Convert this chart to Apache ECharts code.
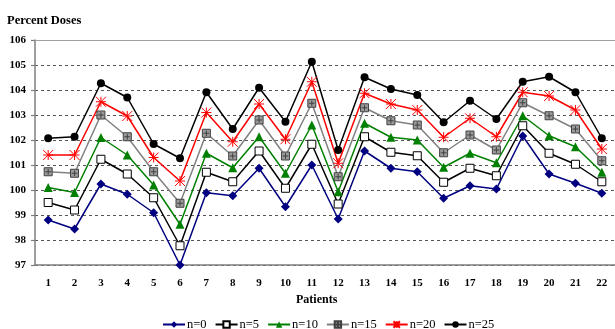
<!DOCTYPE html>
<html>
<head>
<meta charset="utf-8">
<script src="https://cdn.jsdelivr.net/npm/echarts@6/dist/echarts.min.js"></script>
<style>html,body{margin:0;padding:0;background:#fff}#c{width:615px;height:329px}</style>
</head>
<body>
<div id="c"></div>
<script>
const patients = ['1','2','3','4','5','6','7','8','9','10','11','12','13','14','15','16','17','18','19','20','21','22'];
const n0  = [98.80, 98.44, 100.24, 99.83, 99.09, 97.00, 99.89, 99.77, 100.87, 99.33, 101.00, 98.84, 101.56, 100.87, 100.73, 99.67, 100.17, 100.04, 102.16, 100.64, 100.27, 99.87];
const n5  = [99.50, 99.20, 101.23, 100.64, 99.69, 97.77, 100.71, 100.33, 101.56, 100.07, 101.83, 99.44, 102.13, 101.51, 101.37, 100.31, 100.87, 100.57, 102.57, 101.47, 101.03, 100.33];
const n10 = [100.10, 99.90, 102.10, 101.40, 100.20, 98.63, 101.47, 100.89, 102.13, 100.67, 102.60, 99.93, 102.67, 102.11, 102.00, 100.91, 101.47, 101.09, 102.97, 102.17, 101.73, 100.71];
const n15 = [100.73, 100.67, 103.00, 102.13, 100.73, 99.47, 102.27, 101.36, 102.80, 101.36, 103.47, 100.53, 103.29, 102.77, 102.60, 101.49, 102.20, 101.60, 103.49, 102.97, 102.44, 101.17];
const n20 = [101.40, 101.40, 103.53, 102.96, 101.30, 100.36, 103.10, 101.93, 103.44, 102.03, 104.33, 101.07, 103.87, 103.44, 103.20, 102.11, 102.87, 102.13, 103.91, 103.76, 103.20, 101.64];
const n25 = [102.07, 102.13, 104.27, 103.70, 101.84, 101.27, 103.91, 102.44, 104.09, 102.73, 105.13, 101.60, 104.51, 104.04, 103.80, 102.71, 103.57, 102.84, 104.33, 104.53, 103.91, 102.07];
const seriesNames = ['n=0','n=5','n=10','n=15','n=20','n=25'];

const serif = 'Liberation Serif, Times New Roman, serif';
const chart = echarts.init(document.getElementById('c'));

function mk(name, data, color, symbol, size, itemStyle) {
  return {
    name, type: 'line', data, symbol, symbolSize: size,
    lineStyle: { color, width: 1.5 },
    itemStyle: Object.assign({ color, opacity: 1 }, itemStyle || {}),
    emphasis: { disabled: true },
    animation: false
  };
}

chart.setOption({
  animation: false,
  title: {
    text: 'Percent Doses', left: 2, top: 9,
    textStyle: { fontFamily: serif, fontWeight: 'bold', fontSize: 12.5, color: '#000' }
  },
  grid: { left: 35, right: -3, top: 40, bottom: 64, containLabel: false },
  legend: {
    left: 157, top: 313,
    itemWidth: 22, itemHeight: 8, itemGap: 8,
    textStyle: { fontFamily: serif, fontSize: 12.5, color: '#000', padding: [0,0,0,-3] },
    data: seriesNames
  },
  graphic: [{
    type: 'text', left: 296, top: 294,
    style: { text: 'Patients', font: 'bold 12px ' + serif, fill: '#000' }
  }],
  xAxis: [{
    type: 'category', data: patients, boundaryGap: true,
    axisLine: { lineStyle: { color: '#7f7f7f', width: 1.5 } },
    axisTick: { inside: true, length: 4, lineStyle: { color: '#7f7f7f', width: 1.2 } },
    axisLabel: { margin: 13, fontFamily: serif, fontWeight: 'bold', fontSize: 11, color: '#000' }
  }, {
    type: 'category', data: patients, position: 'top',
    axisLine: { lineStyle: { color: '#a0a0a0', width: 1.2 } },
    axisTick: { show: false }, axisLabel: { show: false }
  }],
  yAxis: {
    type: 'value', min: 97, max: 106, interval: 1,
    axisLine: { show: true, lineStyle: { color: '#7f7f7f', width: 1.5 } },
    axisTick: { show: true, length: 4, lineStyle: { color: '#7f7f7f', width: 1.2 } },
    axisLabel: { margin: 9, fontFamily: serif, fontWeight: 'bold', fontSize: 11, color: '#000' },
    splitLine: { show: true, lineStyle: { color: '#555', type: [3, 3], width: 1 } }
  },
  series: [
    mk('n=0', n0, '#000080', 'diamond', 9),
    mk('n=5', n5, '#000000', 'rect', 8, { color: '#fff', borderColor: '#000', borderWidth: 1 }),
    mk('n=10', n10, '#008000', 'triangle', 9),
    mk('n=15', n15, '#808080', 'path://M0 0H10V10H0Z M5 1.5V8.5 M1.5 5H8.5', 8, { color: '#9a9a9a', borderColor: '#404040', borderWidth: 1 }),
    mk('n=20', n20, '#ff0000', 'path://M0 0L10 10M10 0L0 10M5 0V10M0 5H10', 10, { color: 'none', borderColor: '#ff0000', borderWidth: 1 }),
    mk('n=25', n25, '#000000', 'circle', 8)
  ]
});
</script>
</body>
</html>
